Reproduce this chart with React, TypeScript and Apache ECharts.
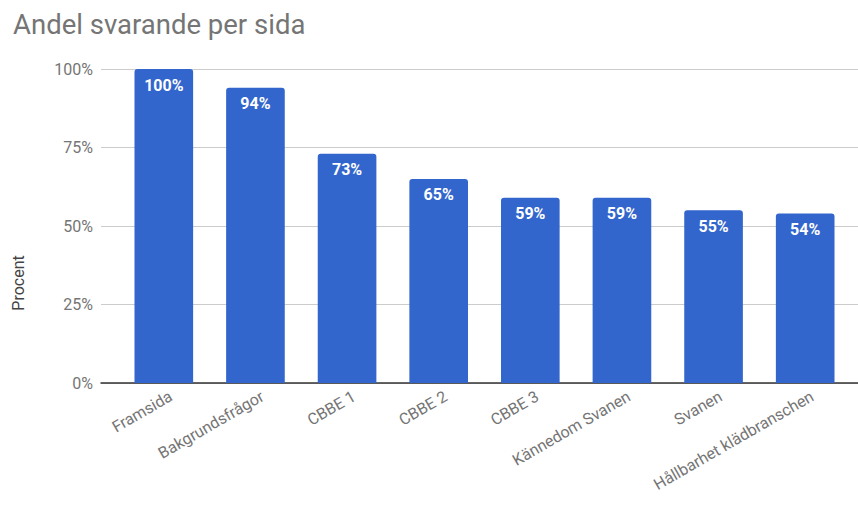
import React, { useEffect, useRef } from "react";
import * as echarts from "echarts";

const categories = [
  "Framsida",
  "Bakgrundsfrågor",
  "CBBE 1",
  "CBBE 2",
  "CBBE 3",
  "Kännedom Svanen",
  "Svanen",
  "Hållbarhet klädbranschen",
];
const values = [100, 94, 73, 65, 59, 59, 55, 54];
const yTicks = [0, 25, 50, 75, 100];

const FONT = "Roboto, 'Noto Sans', Arial, sans-serif";
const GRAY = "#757575";

export default function App() {
  const ref = useRef<HTMLDivElement>(null);
  useEffect(() => {
    if (!ref.current) return;
    const chart = echarts.init(ref.current, undefined, { renderer: "svg" });
    chart.setOption({
      animation: false,
      backgroundColor: "#ffffff",
      textStyle: { fontFamily: FONT },
      title: {
        text: "Andel svarande per sida",
        left: 8,
        top: 5,
        textStyle: { fontFamily: FONT, fontSize: 27.5, fontWeight: "normal", color: GRAY },
      },
      graphic: [
        {
          type: "text",
          x: 18,
          y: 283,
          rotation: Math.PI / 2,
          style: {
            text: "Procent",
            fontFamily: FONT,
            fontSize: 16,
            fill: "#444",
            align: "center",
            verticalAlign: "middle",
          },
        },
      ],
      grid: [
        { left: 101, right: 0, top: 69, bottom: 123 },
        { left: 118, width: 733, top: 69, bottom: 123 },
        { left: 125, width: 733, top: 69, bottom: 123 },
      ],
      xAxis: [
        {
          gridIndex: 0,
          type: "value",
          min: 0,
          max: 1,
          axisLine: { show: true, onZero: false, lineStyle: { color: "#333", width: 1.5 } },
          axisTick: { show: false },
          axisLabel: { show: false },
          splitLine: { show: false },
        },
        {
          gridIndex: 1,
          type: "category",
          data: categories,
          axisLine: { show: false },
          axisTick: { show: false },
          axisLabel: { show: false },
        },
        {
          gridIndex: 2,
          type: "category",
          data: categories,
          axisLine: { show: false },
          axisTick: { show: false },
          axisLabel: {
            rotate: 30,
            interval: 0,
            margin: 12,
            color: GRAY,
            fontSize: 16,
            fontFamily: FONT,
          },
        },
      ],
      yAxis: [
        {
          gridIndex: 0,
          type: "value",
          min: 0,
          max: 100,
          interval: 25,
          axisLine: { show: false },
          axisTick: { show: false },
          axisLabel: {
            formatter: (v: number) => (yTicks.includes(v) ? v + "%" : ""),
            color: GRAY,
            fontSize: 16,
            margin: 8,
            fontFamily: FONT,
          },
          splitLine: { lineStyle: { color: "#cccccc", width: 1 } },
        },
        {
          gridIndex: 1,
          type: "value",
          min: 0,
          max: 100,
          show: false,
          splitLine: { show: false },
        },
        {
          gridIndex: 2,
          type: "value",
          min: 0,
          max: 100,
          show: false,
          splitLine: { show: false },
        },
      ],
      series: [
        {
          type: "bar",
          xAxisIndex: 1,
          yAxisIndex: 1,
          data: values,
          barWidth: "64%",
          itemStyle: { color: "#3366CC", borderRadius: [3, 3, 0, 0] },
          label: {
            show: true,
            position: "insideTop",
            distance: 8,
            formatter: "{c}%",
            color: "#ffffff",
            fontWeight: "bold",
            fontSize: 16,
            fontFamily: FONT,
          },
        },
      ],
    });
    return () => chart.dispose();
  }, []);
  return <div ref={ref} style={{ width: 858, height: 506, position: "absolute", left: 0, top: 0 }} />;
}
